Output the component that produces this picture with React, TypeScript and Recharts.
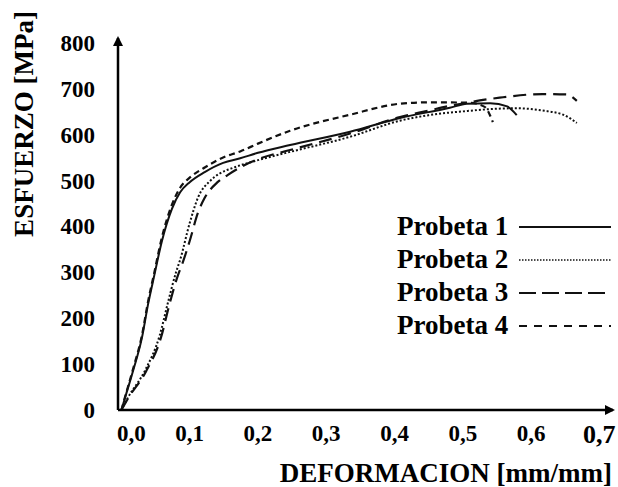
import { LineChart, Line, XAxis, YAxis, Legend, Label } from 'recharts';

const X_TICKS = [0, 0.1, 0.2, 0.3, 0.4, 0.5, 0.6, 0.7];
const Y_TICKS = [0, 100, 200, 300, 400, 500, 600, 700, 800];

const probeta1 = [
  { x: 0, y: 0 }, { x: 0.006, y: 30 }, { x: 0.017, y: 85 }, { x: 0.03, y: 157 },
  { x: 0.039, y: 230 }, { x: 0.048, y: 292 }, { x: 0.059, y: 366 }, { x: 0.074, y: 438 },
  { x: 0.086, y: 474 }, { x: 0.1, y: 496 }, { x: 0.122, y: 518 }, { x: 0.149, y: 538 },
  { x: 0.174, y: 548 }, { x: 0.2, y: 560 }, { x: 0.247, y: 577 }, { x: 0.335, y: 606 },
  { x: 0.408, y: 636 }, { x: 0.481, y: 658 }, { x: 0.506, y: 667 }, { x: 0.54, y: 668 },
  { x: 0.565, y: 661 }, { x: 0.579, y: 642 },
];

const probeta2 = [
  { x: 0, y: 0 }, { x: 0.01, y: 28 }, { x: 0.035, y: 87 }, { x: 0.056, y: 162 },
  { x: 0.068, y: 233 }, { x: 0.08, y: 300 }, { x: 0.086, y: 327 }, { x: 0.1, y: 407 },
  { x: 0.112, y: 462 }, { x: 0.13, y: 499 }, { x: 0.144, y: 515 }, { x: 0.163, y: 527 },
  { x: 0.2, y: 544 }, { x: 0.247, y: 562 }, { x: 0.335, y: 595 }, { x: 0.408, y: 630 },
  { x: 0.45, y: 642 }, { x: 0.506, y: 651 }, { x: 0.55, y: 656 }, { x: 0.579, y: 657 },
  { x: 0.617, y: 652 }, { x: 0.647, y: 643 }, { x: 0.667, y: 625 },
];

const probeta3 = [
  { x: 0, y: 0 }, { x: 0.01, y: 26 }, { x: 0.036, y: 84 }, { x: 0.058, y: 158 },
  { x: 0.07, y: 228 }, { x: 0.082, y: 290 }, { x: 0.09, y: 322 }, { x: 0.1, y: 368 },
  { x: 0.112, y: 429 }, { x: 0.122, y: 462 }, { x: 0.14, y: 495 }, { x: 0.156, y: 512 },
  { x: 0.18, y: 533 }, { x: 0.2, y: 546 }, { x: 0.247, y: 566 }, { x: 0.335, y: 602 },
  { x: 0.408, y: 638 }, { x: 0.45, y: 652 }, { x: 0.48, y: 662 }, { x: 0.51, y: 670 },
  { x: 0.525, y: 674 }, { x: 0.554, y: 680 }, { x: 0.617, y: 688 }, { x: 0.652, y: 687 },
  { x: 0.667, y: 673 },
];

const probeta4 = [
  { x: 0, y: 0 }, { x: 0.006, y: 32 }, { x: 0.017, y: 89 }, { x: 0.03, y: 162 },
  { x: 0.039, y: 236 }, { x: 0.048, y: 298 }, { x: 0.059, y: 374 }, { x: 0.074, y: 447 },
  { x: 0.086, y: 484 }, { x: 0.1, y: 506 }, { x: 0.122, y: 528 }, { x: 0.149, y: 550 },
  { x: 0.174, y: 563 }, { x: 0.2, y: 580 }, { x: 0.247, y: 608 }, { x: 0.335, y: 643 },
  { x: 0.408, y: 667 }, { x: 0.45, y: 670 }, { x: 0.51, y: 669 }, { x: 0.532, y: 660 },
  { x: 0.544, y: 627 },
];

const FONT = '"Liberation Serif", "Times New Roman", serif';
const INK = '#111';

// dash patterns: plot line / legend sample
const DASH = {
  'Probeta 1': [undefined, undefined],
  'Probeta 2': ['2 2', '1.5 1.5'],
  'Probeta 3': ['13 7', '17 6'],
  'Probeta 4': ['6 4', '8 7'],
};

const fmt = (v: number) => v.toFixed(1).replace('.', ',');

const XTick = (props: any) => {
  const { x, y, payload, index } = props;
  const last = payload.value === 0.7;
  return (
    <text
      x={x + (index === 0 ? 10 : 0)}
      y={y}
      dy={last ? 25 : 23}
      textAnchor="middle"
      fill="#000"
      fontFamily={FONT}
      fontWeight="bold"
      fontSize={last ? 26 : 23}
    >
      {fmt(payload.value)}
    </text>
  );
};

const YTitle = (props: any) => {
  const { viewBox } = props;
  const cx = 24;
  const cy = viewBox.y + 86;
  return (
    <text
      x={cx}
      y={cy}
      transform={`rotate(-90 ${cx} ${cy})`}
      textAnchor="middle"
      dominantBaseline="central"
      fill="#000"
      fontFamily={FONT}
      fontWeight="bold"
      fontSize={27}
    >
      ESFUERZO [MPa]
    </text>
  );
};

const LegendContent = (props: any) => {
  const { payload = [] } = props;
  return (
    <div style={{ fontFamily: FONT, fontWeight: 'bold', fontSize: 27, color: '#000' }}>
      {payload.map((entry: any) => (
        <div key={entry.value} style={{ display: 'flex', alignItems: 'center', height: 33 }}>
          <span style={{ width: 122, whiteSpace: 'nowrap' }}>{entry.value}</span>
          <svg width={92} height={12}>
            <line
              x1={0}
              y1={6}
              x2={92}
              y2={6}
              stroke={INK}
              strokeWidth={entry.value === 'Probeta 2' ? 1.5 : 2}
              strokeDasharray={DASH[entry.value][1]}
            />
          </svg>
        </div>
      ))}
    </div>
  );
};

export default function App() {
  return (
    <div style={{ position: 'absolute', left: 0, top: 0, background: '#fff' }}>
      <LineChart width={618} height={487} margin={{ top: 38, right: 5, bottom: 0, left: 0 }}>
        <defs>
          <marker
            id="axisArrow"
            viewBox="0 0 10 10"
            refX="8"
            refY="5"
            markerWidth="4"
            markerHeight="4"
            orient="auto-start-reverse"
          >
            <path d="M0,0 L10,5 L0,10 z" fill="#000" />
          </marker>
        </defs>
        <XAxis
          type="number"
          dataKey="x"
          domain={[-0.005, 0.72]}
          ticks={X_TICKS}
          allowDataOverflow
          height={77}
          tickLine={false}
          axisLine={{ stroke: '#000', strokeWidth: 2.5, markerEnd: 'url(#axisArrow)' }}
          tick={<XTick />}
        >
          <Label
            value="DEFORMACION [mm/mm]"
            position="insideBottomRight"
            offset={5}
            dx={4}
            fill="#000"
            fontFamily={FONT}
            fontWeight="bold"
            fontSize={27}
          />
        </XAxis>
        <YAxis
          type="number"
          domain={[0, 810]}
          ticks={Y_TICKS}
          width={118}
          tickLine={false}
          tickMargin={17}
          axisLine={{ stroke: '#000', strokeWidth: 2.5, markerStart: 'url(#axisArrow)' }}
          tick={{ fill: '#000', fontSize: 23, fontWeight: 'bold', fontFamily: FONT }}
        >
          <Label content={<YTitle />} />
        </YAxis>
        <Legend
          layout="vertical"
          align="center"
          verticalAlign="middle"
          content={<LegendContent />}
          wrapperStyle={{ left: 397, top: 210, width: 220 }}
        />
        <Line data={probeta1} dataKey="y" name="Probeta 1" type="monotone" stroke={INK} strokeWidth={2} dot={false} isAnimationActive={false} />
        <Line data={probeta2} dataKey="y" name="Probeta 2" type="monotone" stroke={INK} strokeWidth={2} strokeDasharray={DASH['Probeta 2'][0]} dot={false} isAnimationActive={false} />
        <Line data={probeta3} dataKey="y" name="Probeta 3" type="monotone" stroke={INK} strokeWidth={2.2} strokeDasharray={DASH['Probeta 3'][0]} dot={false} isAnimationActive={false} />
        <Line data={probeta4} dataKey="y" name="Probeta 4" type="monotone" stroke={INK} strokeWidth={2.2} strokeDasharray={DASH['Probeta 4'][0]} dot={false} isAnimationActive={false} />
      </LineChart>
    </div>
  );
}
